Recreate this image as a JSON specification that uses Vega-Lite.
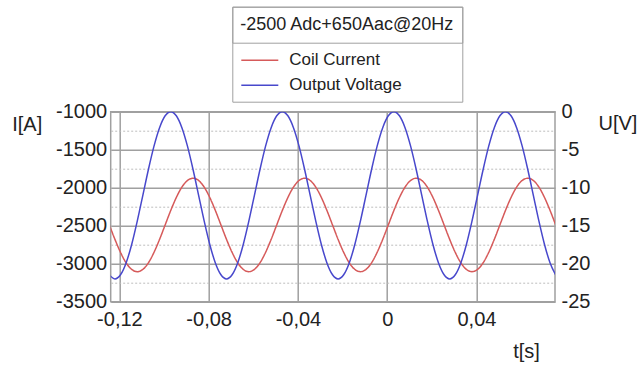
{
  "$schema": "https://vega.github.io/schema/vega-lite/v6.json",
  "width": 444.3,
  "height": 190,
  "autosize": {"type": "none"},
  "padding": {"left": 110.7, "top": 111.7, "right": 87, "bottom": 63.3},
  "background": "white",
  "config": {
    "locale": {"number": {"decimal": ",", "thousands": "", "grouping": [3], "currency": ["", ""], "minus": "-"}},
    "font": "Liberation Sans",
    "view": {"stroke": "#a0a0a0", "strokeWidth": 1.5},
    "axis": {"labelFont": "Liberation Sans", "labelFontSize": 20, "labelColor": "#222", "titleFont": "Liberation Sans", "titleFontSize": 20, "titleFontWeight": "normal", "titleColor": "#222", "ticks": false, "domain": false, "labelFlush": false, "labelOverlap": false},
    "legend": {"labelFont": "Liberation Sans", "titleFont": "Liberation Sans", "labelColor": "#222", "labelLimit": 400, "titleLimit": 400}
  },
  "data": {"values": [
    {"t": -0.1245, "I": -2490, "U": -21.46},
    {"t": -0.122, "I": -2680, "U": -22},
    {"t": -0.1195, "I": -2851, "U": -21.46},
    {"t": -0.117, "I": -2988, "U": -19.9},
    {"t": -0.1145, "I": -3075, "U": -17.47},
    {"t": -0.112, "I": -3105, "U": -14.4},
    {"t": -0.1095, "I": -3075, "U": -11},
    {"t": -0.107, "I": -2988, "U": -7.6},
    {"t": -0.1045, "I": -2851, "U": -4.53},
    {"t": -0.102, "I": -2680, "U": -2.1},
    {"t": -0.0995, "I": -2490, "U": -0.54},
    {"t": -0.097, "I": -2300, "U": 0},
    {"t": -0.0945, "I": -2129, "U": -0.54},
    {"t": -0.092, "I": -1992, "U": -2.1},
    {"t": -0.0895, "I": -1905, "U": -4.53},
    {"t": -0.087, "I": -1875, "U": -7.6},
    {"t": -0.0845, "I": -1905, "U": -11},
    {"t": -0.082, "I": -1992, "U": -14.4},
    {"t": -0.0795, "I": -2129, "U": -17.47},
    {"t": -0.077, "I": -2300, "U": -19.9},
    {"t": -0.0745, "I": -2490, "U": -21.46},
    {"t": -0.072, "I": -2680, "U": -22},
    {"t": -0.0695, "I": -2851, "U": -21.46},
    {"t": -0.067, "I": -2988, "U": -19.9},
    {"t": -0.0645, "I": -3075, "U": -17.47},
    {"t": -0.062, "I": -3105, "U": -14.4},
    {"t": -0.0595, "I": -3075, "U": -11},
    {"t": -0.057, "I": -2988, "U": -7.6},
    {"t": -0.0545, "I": -2851, "U": -4.53},
    {"t": -0.052, "I": -2680, "U": -2.1},
    {"t": -0.0495, "I": -2490, "U": -0.54},
    {"t": -0.047, "I": -2300, "U": 0},
    {"t": -0.0445, "I": -2129, "U": -0.54},
    {"t": -0.042, "I": -1992, "U": -2.1},
    {"t": -0.0395, "I": -1905, "U": -4.53},
    {"t": -0.037, "I": -1875, "U": -7.6},
    {"t": -0.0345, "I": -1905, "U": -11},
    {"t": -0.032, "I": -1992, "U": -14.4},
    {"t": -0.0295, "I": -2129, "U": -17.47},
    {"t": -0.027, "I": -2300, "U": -19.9},
    {"t": -0.0245, "I": -2490, "U": -21.46},
    {"t": -0.022, "I": -2680, "U": -22},
    {"t": -0.0195, "I": -2851, "U": -21.46},
    {"t": -0.017, "I": -2988, "U": -19.9},
    {"t": -0.0145, "I": -3075, "U": -17.47},
    {"t": -0.012, "I": -3105, "U": -14.4},
    {"t": -0.0095, "I": -3075, "U": -11},
    {"t": -0.007, "I": -2988, "U": -7.6},
    {"t": -0.0045, "I": -2851, "U": -4.53},
    {"t": -0.002, "I": -2680, "U": -2.1},
    {"t": 0.0005, "I": -2490, "U": -0.54},
    {"t": 0.003, "I": -2300, "U": 0},
    {"t": 0.0055, "I": -2129, "U": -0.54},
    {"t": 0.008, "I": -1992, "U": -2.1},
    {"t": 0.0105, "I": -1905, "U": -4.53},
    {"t": 0.013, "I": -1875, "U": -7.6},
    {"t": 0.0155, "I": -1905, "U": -11},
    {"t": 0.018, "I": -1992, "U": -14.4},
    {"t": 0.0205, "I": -2129, "U": -17.47},
    {"t": 0.023, "I": -2300, "U": -19.9},
    {"t": 0.0255, "I": -2490, "U": -21.46},
    {"t": 0.028, "I": -2680, "U": -22},
    {"t": 0.0305, "I": -2851, "U": -21.46},
    {"t": 0.033, "I": -2988, "U": -19.9},
    {"t": 0.0355, "I": -3075, "U": -17.47},
    {"t": 0.038, "I": -3105, "U": -14.4},
    {"t": 0.0405, "I": -3075, "U": -11},
    {"t": 0.043, "I": -2988, "U": -7.6},
    {"t": 0.0455, "I": -2851, "U": -4.53},
    {"t": 0.048, "I": -2680, "U": -2.1},
    {"t": 0.0505, "I": -2490, "U": -0.54},
    {"t": 0.053, "I": -2300, "U": 0},
    {"t": 0.0555, "I": -2129, "U": -0.54},
    {"t": 0.058, "I": -1992, "U": -2.1},
    {"t": 0.0605, "I": -1905, "U": -4.53},
    {"t": 0.063, "I": -1875, "U": -7.6},
    {"t": 0.0655, "I": -1905, "U": -11},
    {"t": 0.068, "I": -1992, "U": -14.4},
    {"t": 0.0705, "I": -2129, "U": -17.47},
    {"t": 0.073, "I": -2300, "U": -19.9},
    {"t": 0.0755, "I": -2490, "U": -21.46}
  ]},
  "encoding": {
    "x": {
      "field": "t", "type": "quantitative",
      "scale": {"domain": [-0.1239, 0.0752], "nice": false, "zero": false},
      "axis": {"values": [-0.12, -0.08, -0.04, 0, 0.04], "format": ".2~f", "grid": true, "gridColor": "#a0a0a0", "gridWidth": 1.5, "labelPadding": 8, "title": "t[s]", "titleAngle": 0, "titleX": 402, "titleY": 50, "titleAlign": "left", "titleBaseline": "middle"}
    }
  },
  "layer": [
    {
      "mark": {"type": "line", "interpolate": "monotone", "strokeWidth": 1.5, "clip": true},
      "encoding": {
        "y": {
          "field": "I", "type": "quantitative",
          "scale": {"domain": [-3500, -1000], "nice": false, "zero": false},
          "axis": {
            "orient": "left",
            "values": [-1000, -1250, -1500, -1750, -2000, -2250, -2500, -2750, -3000, -3250, -3500],
            "format": "d",
            "labelExpr": "datum.value % 500 === 0 ? datum.label : ''",
            "grid": true,
            "gridColor": {"condition": {"test": "datum.value % 500 !== 0", "value": "#bdbdbd"}, "value": "#a0a0a0"},
            "gridDash": {"condition": {"test": "datum.value % 500 !== 0", "value": [2, 2]}, "value": []},
            "gridWidth": {"condition": {"test": "datum.value % 500 !== 0", "value": 1}, "value": 1.5},
            "labelPadding": 4,
            "title": "I[A]", "titleAngle": 0, "titleX": -99, "titleY": 13, "titleAlign": "left", "titleBaseline": "middle"
          }
        },
        "color": {
          "datum": "Coil Current", "type": "nominal",
          "scale": {"domain": ["Coil Current", "Output Voltage"], "range": ["#d65a5a", "#4848cc"]},
          "legend": {"orient": "none", "legendX": 121.6, "legendY": -105, "title": "-2500 Adc+650Aac@20Hz", "titleColor": "rgba(0,0,0,0)", "titleFontSize": 18, "titleFontWeight": "normal", "titlePadding": 19, "labelFontSize": 17, "symbolType": "stroke", "symbolSize": 1369, "symbolStrokeWidth": 1.5, "labelOffset": 10, "padding": 8, "rowPadding": 7, "clipHeight": 17, "strokeColor": "#a0a0a0"}
        },
        "strokeDash": {
          "datum": "-2500 Adc+650Aac@20Hz", "type": "nominal",
          "scale": {"range": [[1, 0]]},
          "legend": {"orient": "none", "legendX": 121.6, "legendY": -105, "title": null, "labelFontSize": 18, "symbolOpacity": 0, "symbolSize": 0, "symbolStrokeWidth": 0, "labelOffset": -18, "padding": 8, "clipHeight": 20, "strokeColor": "#a0a0a0"}
        }
      }
    },
    {
      "mark": {"type": "line", "interpolate": "monotone", "strokeWidth": 1.5, "clip": true},
      "encoding": {
        "y": {
          "field": "U", "type": "quantitative",
          "scale": {"domain": [-25, 0], "nice": false, "zero": false},
          "axis": {"orient": "right", "values": [0, -5, -10, -15, -20, -25], "format": "d", "grid": false, "labelPadding": 6, "title": "U[V]", "titleAngle": 0, "titleX": 43, "titleY": 12, "titleAlign": "left", "titleBaseline": "middle"}
        },
        "color": {"datum": "Output Voltage", "type": "nominal"}
      }
    }
  ],
  "resolve": {"scale": {"y": "independent"}}
}
